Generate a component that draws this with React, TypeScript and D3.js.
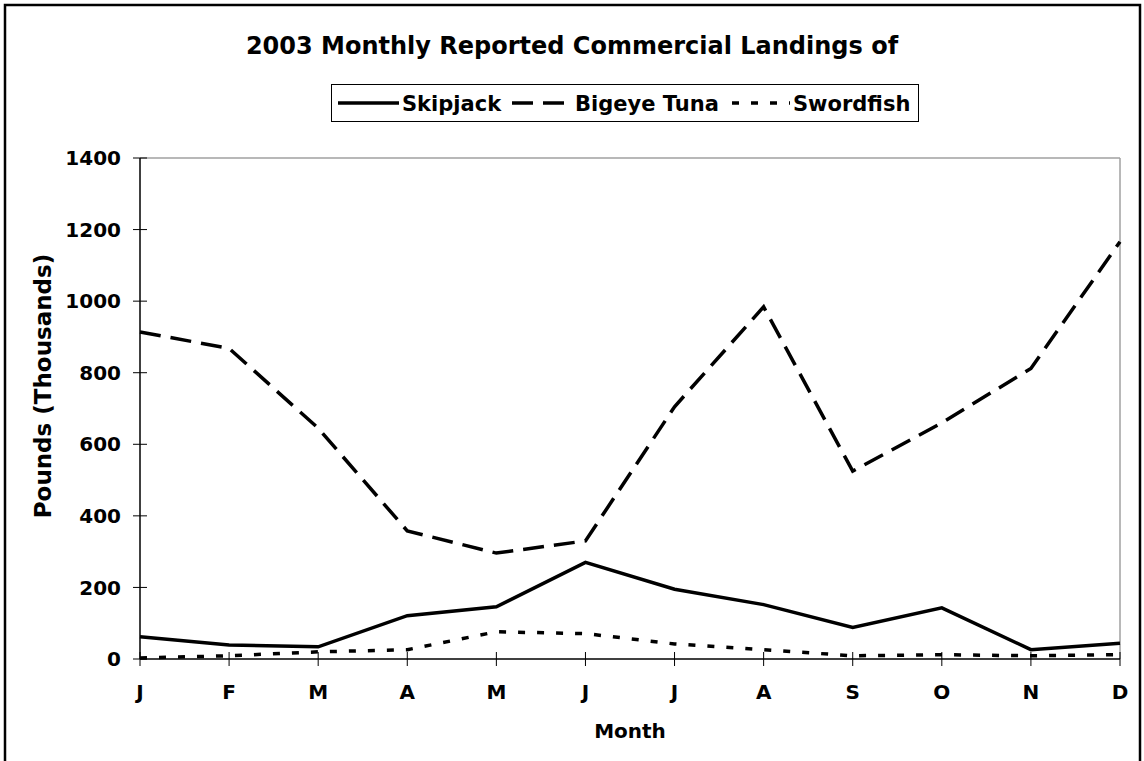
import React from "react";
import * as d3 from "d3";

const months = ["J", "F", "M", "A", "M", "J", "J", "A", "S", "O", "N", "D"];
const skipjack = [62, 39, 34, 121, 146, 270, 195, 152, 88, 143, 26, 44];
const bigeye = [914, 868, 645, 358, 296, 330, 705, 984, 525, 660, 812, 1166];
const swordfish = [3, 9, 20, 26, 76, 71, 42, 26, 9, 12, 9, 12];
const yTicks = [0, 200, 400, 600, 800, 1000, 1200, 1400];

const titleText = "2003 Monthly Reported Commercial Landings of";
const xTitle = "Month";
const yTitle = "Pounds (Thousands)";

const seriesNames = ["Skipjack", "Bigeye Tuna", "Swordfish"];
const seriesDash = [undefined, "21,10", "7,12"];

const FONT = "'DejaVu Sans', Verdana, sans-serif";

export default function App() {
  const W = 1144, H = 761;
  const left = 140, right = 1120, top = 158, bottom = 659;

  const x = d3.scalePoint<number>().domain(months.map((_, i) => i)).range([left, right]);
  const y = d3.scaleLinear().domain([0, 1400]).range([bottom, top]);

  const line = d3.line<number>().x((_, i) => x(i) as number).y((d) => y(d));

  const data = [skipjack, bigeye, swordfish];

  const legendItems = [
    { x1: 338, x2: 399, tx: 402 },
    { x1: 512, x2: 572, tx: 575 },
    { x1: 732, x2: 790, tx: 793 },
  ];

  return (
    <svg width={W} height={H} style={{ position: "absolute", left: 0, top: 0, background: "#fff" }} fontFamily={FONT}>
      <rect x={0} y={0} width={W} height={H} fill="#fff" />
      <rect x={5} y={5} width={1135} height={820} fill="none" stroke="#000" strokeWidth={2.5} />

      <text x={572} y={54} textAnchor="middle" fontSize={24} fontWeight="bold">{titleText}</text>

      {/* legend */}
      <rect x={331.5} y={84.5} width={587} height={37} fill="#fff" stroke="#000" strokeWidth={1} />
      {legendItems.map((it, i) => (
        <g key={i}>
          <line x1={it.x1} x2={it.x2} y1={103} y2={103} stroke="#000" strokeWidth={3.5}
            strokeDasharray={seriesDash[i]} />
          <text x={it.tx} y={103} dy="0.36em" fontSize={21} fontWeight="bold">{seriesNames[i]}</text>
        </g>
      ))}

      {/* plot frame */}
      <line x1={left} x2={right} y1={top} y2={top} stroke="#a0a0a0" strokeWidth={1.5} />
      <line x1={right} x2={right} y1={top} y2={bottom} stroke="#a0a0a0" strokeWidth={1.5} />
      <line x1={left} x2={left} y1={top} y2={bottom} stroke="#000" strokeWidth={1.5} />

      {yTicks.map((t) => (
        <g key={t}>
          <line x1={left - 7} x2={left + 7} y1={y(t)} y2={y(t)} stroke="#000" strokeWidth={1} />
          <text x={121} y={y(t)} dy="0.36em" textAnchor="end" fontSize={20} fontWeight="bold">{t}</text>
        </g>
      ))}

      {months.map((m, i) => (
        <g key={i}>
          <line x1={x(i)} x2={x(i)} y1={bottom - 7} y2={bottom + 7} stroke="#000" strokeWidth={1} />
          <text x={x(i)} y={692} dy="0.36em" textAnchor="middle" fontSize={20} fontWeight="bold">{m}</text>
        </g>
      ))}

      {data.map((d, i) => (
        <path key={i} d={line(d) || ""} fill="none" stroke="#000" strokeWidth={3.5}
          strokeDasharray={seriesDash[i]} strokeLinejoin="miter" />
      ))}

      <line x1={left} x2={right} y1={bottom} y2={bottom} stroke="#000" strokeWidth={1.5} />

      <text x={630} y={731} dy="0.36em" textAnchor="middle" fontSize={20} fontWeight="bold">{xTitle}</text>
      <text transform={`translate(43,386) rotate(-90)`} textAnchor="middle" dy="0.36em" fontSize={23} fontWeight="bold">{yTitle}</text>
    </svg>
  );
}
